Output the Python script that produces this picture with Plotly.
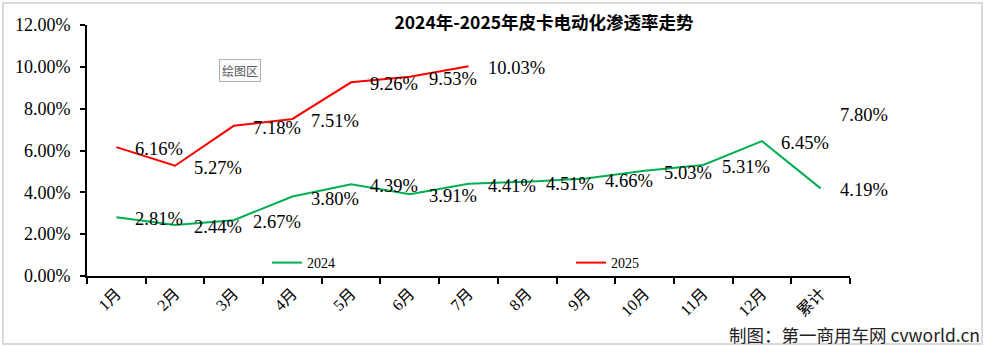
import plotly.graph_objects as go

# Pickup truck electrification penetration, by month (percent)
months = ["1月", "2月", "3月", "4月", "5月", "6月", "7月", "8月", "9月",
          "10月", "11月", "12月", "累计"]
rate_2024 = [2.81, 2.44, 2.67, 3.80, 4.39, 3.91, 4.41, 4.51, 4.66, 5.03, 5.31, 6.45, 4.19]
rate_2025 = [6.16, 5.27, 7.18, 7.51, 9.26, 9.53, 10.03, None, None, None, None, None, 7.80]
y_ticks = [0, 2, 4, 6, 8, 10, 12]

W, H = 985, 346
M_L, M_R, M_T, M_B = 87, 135, 25, 70
PW, PH = W - M_L - M_R, H - M_T - M_B

SERIF = "Liberation Serif, Noto Sans CJK SC, serif"
CJK = "Noto Sans CJK SC, sans-serif"


def px_to_paper_x(px):
    return (px - M_L) / PW


def px_to_paper_y(py):
    return (H - M_B - py) / PH


fig = go.Figure()
fig.add_trace(go.Scatter(x=months, y=rate_2024, name="2024", mode="lines",
                         line=dict(color="#00B050", width=2), connectgaps=False))
fig.add_trace(go.Scatter(x=months, y=rate_2025, name="2025", mode="lines",
                         line=dict(color="#FF0000", width=2), connectgaps=False))

annotations = []
for series in (rate_2024, rate_2025):
    for m, v in zip(months, series):
        if v is None:
            continue
        annotations.append(dict(
            x=m, y=v, xref="x", yref="y", text=f"{v:.2f}%", showarrow=False,
            xanchor="left", yanchor="middle", xshift=17, yshift=-2,
            font=dict(family=SERIF, size=18.5, color="#000000")))

# Small floating tag inside the plot area
annotations.append(dict(
    x=px_to_paper_x(240), y=px_to_paper_y(71), xref="paper", yref="paper",
    text="绘图区", showarrow=False, xanchor="center", yanchor="middle",
    font=dict(family=CJK, size=12, color="#595959"),
    bgcolor="#fbfbfb", bordercolor="#b0b0b0", borderwidth=1, borderpad=2))

# Source credit
annotations.append(dict(
    x=px_to_paper_x(982), y=px_to_paper_y(334), xref="paper", yref="paper",
    text="制图：第一商用车网 cvworld.cn", showarrow=False,
    xanchor="right", yanchor="middle",
    font=dict(family=CJK, size=17.5, color="#222222")))

shapes = [
    dict(type="rect", xref="paper", yref="paper",
         x0=px_to_paper_x(3), x1=px_to_paper_x(982),
         y0=px_to_paper_y(344), y1=px_to_paper_y(3),
         line=dict(color="#d9d9d9", width=2), fillcolor="rgba(0,0,0,0)", layer="below"),
]

fig.update_layout(
    width=W, height=H,
    margin=dict(l=M_L, r=M_R, t=M_T, b=M_B),
    paper_bgcolor="white", plot_bgcolor="white",
    title=dict(text="<b>2024年-2025年皮卡电动化渗透率走势</b>",
               x=544 / W, xanchor="center", y=1 - 23 / H, yanchor="middle",
               font=dict(family=CJK, size=17.5, color="#000000")),
    showlegend=True,
    legend=dict(orientation="h", x=px_to_paper_x(267), y=px_to_paper_y(263),
                xanchor="left", yanchor="middle",
                entrywidth=259, entrywidthmode="pixels",
                font=dict(family=SERIF, size=14, color="#000000"),
                bgcolor="rgba(0,0,0,0)"),
    annotations=annotations,
    shapes=shapes,
)

fig.update_xaxes(
    type="category", categoryorder="array", categoryarray=months,
    range=[-0.5, len(months) - 0.5],
    showline=True, linecolor="black", linewidth=2,
    ticks="outside", tickson="boundaries", ticklen=6, tickwidth=2, tickcolor="black",
    tickangle=-45, showgrid=False, zeroline=False,
    tickfont=dict(family=SERIF, size=16, color="#000000"),
)
fig.update_yaxes(
    range=[0, 12], tickvals=y_ticks, ticktext=[f"{t:.2f}%" for t in y_ticks],
    showline=True, linecolor="black", linewidth=2,
    ticks="outside", ticklen=5, tickwidth=2, tickcolor="black",
    showgrid=False, zeroline=False, ticklabelstandoff=6,
    tickfont=dict(family=SERIF, size=18, color="#000000"),
)

fig.write_html("out.html")
